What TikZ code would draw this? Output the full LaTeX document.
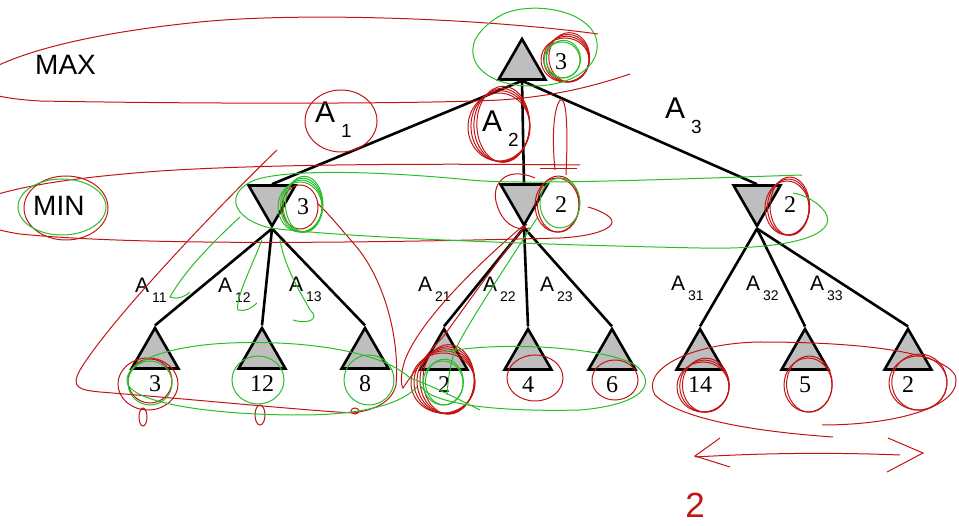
\documentclass[tikz,border=0pt]{standalone}
\usepackage{fontspec}
\setmainfont{Liberation Serif}
\setsansfont{Liberation Sans}
\usetikzlibrary{shapes.geometric, positioning}
\definecolor{my_gray}{RGB}{190, 190, 190}
\definecolor{my_red}{RGB}{195, 20, 20}
\definecolor{my_green}{RGB}{40, 190, 40}
\tikzset {
  maxnode/.style = {draw, line width=2.6pt, fill=my_gray, regular polygon, regular polygon sides=3, minimum size=54pt, inner sep=0pt},
  minnode/.style = {maxnode, shape border rotate=180},
  leafnode/.style = {maxnode},
  value/.style = {inner sep=0pt, font=\fontsize{24}{24}\selectfont},
  player/.style = {inner sep=0pt, anchor=base west, font=\sffamily\fontsize{28}{28}\selectfont},
  act/.style = {inner sep=0pt, anchor=base west, font=\sffamily\fontsize{30}{30}\selectfont},
  subact/.style = {inner sep=0pt, anchor=base west, font=\sffamily\fontsize{21}{21}\selectfont},
  branch/.style = {line width=2.6pt, black},
  redpen/.style = {my_red, line width=1pt},
  greenpen/.style = {my_green, line width=1pt},
  handnum/.style = {inner sep=0pt, text=my_red, font=\sffamily\fontsize{35}{35}\selectfont}
}
% move labels with lowered index
\newcommand{\actone}[1]{A\hspace{6pt}\raisebox{-15pt}{\fontsize{19}{19}\selectfont #1}}
\newcommand{\acttwo}[1]{A\hspace{3pt}\raisebox{-10pt}{\fontsize{14}{14}\selectfont #1}}
% a few loops of the pen round one spot
\newcommand{\penloops}[6]{%
  \foreach \k in {1,...,#6} {
    \draw[#1] (#2+\k*1.4-1.4, #3-\k*0.9+0.9) ellipse ({#4*(1.05-0.05*\k)} and {#5*(0.96+0.04*\k)});
  }
}

\begin{document}
\begin{tikzpicture}[x=1pt, y=-1pt]
    \useasboundingbox (0,0) rectangle (959,526);

    % players
    \node[player] (maxlbl) at (35,75) {MAX};
    \node[player] (minlbl) at (33,216) {MIN};

    % tree
    \node[maxnode] (root) at (522,66) {};
    \node[minnode] (min1) at (272,199) {};
    \node[minnode] (min2) at (524,198) {};
    \node[minnode] (min3) at (757,199) {};
    \node[leafnode] (l11) at (155,355) {};
    \node[leafnode] (l12) at (262,355) {};
    \node[leafnode] (l13) at (365,355) {};
    \node[leafnode] (l21) at (444,356) {};
    \node[leafnode] (l22) at (528,356) {};
    \node[leafnode] (l23) at (612,356) {};
    \node[leafnode] (l31) at (700,356) {};
    \node[leafnode] (l32) at (805,356) {};
    \node[leafnode] (l33) at (908,356) {};

    \draw[branch] (root.south) -- (min1.north);
    \draw[branch] (root.south) -- (min2.north);
    \draw[branch] (root.south) -- (min3.north);
    \foreach \m/\a/\b/\c in {min1/l11/l12/l13, min2/l21/l22/l23, min3/l31/l32/l33} {
      \draw[branch] (\m.corner 1) -- (\a.corner 1);
      \draw[branch] (\m.corner 1) -- (\b.corner 1);
      \draw[branch] (\m.corner 1) -- (\c.corner 1);
    }

    % values
    \node[value] (vroot) at (561,62) {3};
    \node[value] (vmin1) at (303,207) {3};
    \node[value] (vmin2) at (561,205) {2};
    \node[value] (vmin3) at (790,205) {2};
    \node[value, below=6pt of l11] (v11) {3};
    \node[value, below=6pt of l12] (v12) {12};
    \node[value, below=6pt of l13] (v13) {8};
    \node[value, below=6pt of l21] (v21) {2};
    \node[value, below=6pt of l22] (v22) {4};
    \node[value, below=6pt of l23] (v23) {6};
    \node[value, below=6pt of l31] (v31) {14};
    \node[value, below=6pt of l32] (v32) {5};
    \node[value, below=6pt of l33] (v33) {2};

    % moves
    \node[act] (a1) at (315,123) {\actone{1}};
    \node[act] (a2) at (482,132) {\actone{2}};
    \node[act] (a3) at (665,119) {\actone{3}};
    \node[subact] (a11) at (135,293) {\acttwo{11}};
    \node[subact] (a12) at (218,293) {\acttwo{12}};
    \node[subact] (a13) at (289,292) {\acttwo{13}};
    \node[subact] (a21) at (418,292) {\acttwo{21}};
    \node[subact] (a22) at (483,292) {\acttwo{22}};
    \node[subact] (a23) at (540,292) {\acttwo{23}};
    \node[subact] (a31) at (671,291) {\acttwo{31}};
    \node[subact] (a32) at (746,291) {\acttwo{32}};
    \node[subact] (a33) at (810,291) {\acttwo{33}};

    % red pen
    \draw[redpen] (598,34) .. controls (480,18) and (300,12) .. (200,22) .. controls (100,32) and (20,50) .. (-20,75) .. controls (-30,90) and (-10,98) .. (40,101) .. controls (200,104) and (420,104) .. (500,100) .. controls (560,96) and (600,84) .. (630,74);
    \draw[redpen] (580,165) .. controls (400,163) and (250,165) .. (160,171) .. controls (80,177) and (20,185) .. (-20,200) .. controls (-40,215) and (-20,228) .. (20,234) .. controls (150,247) and (400,242) .. (560,238) .. controls (600,236) and (625,225) .. (605,214) .. controls (600,211) and (595,209) .. (588,207);
    \draw[redpen] (277,150) .. controls (220,205) and (110,320) .. (80,370) .. controls (70,388) and (80,390) .. (100,392) .. controls (200,400) and (300,410) .. (353,413) .. controls (375,410) and (392,402) .. (396,385) .. controls (400,340) and (385,280) .. (355,245) .. controls (340,228) and (330,215) .. (317,203);
    \draw[redpen] (555,170) .. controls (552,140) and (553,110) .. (560,100) .. controls (567,96) and (568,130) .. (566,175);
    \draw[redpen] (540,169) -- (577,169);
    \draw[redpen] (535,178) .. controls (505,165) and (490,185) .. (497,205) .. controls (502,222) and (515,232) .. (530,228);
    \draw[redpen] (523,226) .. controls (480,262) and (420,320) .. (405,360) .. controls (400,375) and (401,385) .. (403,388) .. controls (415,370) and (430,350) .. (443,337) .. controls (470,300) and (505,250) .. (527,224);
    \draw[redpen] (833,437) .. controls (760,432) and (680,420) .. (655,395) .. controls (640,370) and (690,343) .. (760,342) .. controls (850,342) and (940,350) .. (955,375) .. controls (965,405) and (900,425) .. (822,425);
    \draw[redpen] (720,438) -- (695,456) -- (730,467);
    \draw[redpen] (695,457) .. controls (780,452) and (850,453) .. (900,455);
    \draw[redpen] (888,438) -- (923,453) -- (887,472);
    \penloops{redpen}{565}{60}{24}{22}{4}
    \penloops{redpen}{66}{208}{42}{32}{1}
    \penloops{redpen}{341}{121}{36}{31}{1}
    \penloops{redpen}{499}{127}{31}{34}{4}
    \penloops{redpen}{300}{207}{18}{22}{1}
    \penloops{redpen}{557}{205}{22}{27}{2}
    \penloops{redpen}{787}{208}{22}{27}{3}
    \penloops{redpen}{148}{384}{30}{26}{1}
    \penloops{redpen}{150}{381}{22}{22}{1}
    \penloops{redpen}{443}{383}{32}{30}{5}
    \penloops{redpen}{535}{378}{28}{23}{1}
    \penloops{redpen}{615}{380}{23}{20}{1}
    \penloops{redpen}{703}{387}{26}{25}{3}
    \penloops{redpen}{808}{385}{24}{27}{2}
    \penloops{redpen}{918}{383}{29}{27}{2}
    \draw[redpen] (143,417) ellipse (4 and 9);
    \draw[redpen] (260,415) ellipse (5 and 10);
    \draw[redpen] (355,411) ellipse (4 and 3);
    \node[handnum] (answer) at (695,505) {2};

    % green pen
    \draw[greenpen] (498,17) .. controls (520,2) and (580,5) .. (595,35) .. controls (605,60) and (580,85) .. (535,86) .. controls (490,87) and (465,65) .. (475,40) .. controls (480,30) and (490,22) .. (498,17);
    \draw[greenpen] (802,175) .. controls (650,180) and (520,185) .. (470,180) .. controls (390,172) and (290,168) .. (255,180) .. controls (225,192) and (230,218) .. (270,228) .. controls (350,238) and (550,245) .. (700,248) .. controls (790,250) and (840,235) .. (825,212) .. controls (818,202) and (805,195) .. (793,193);
    \draw[greenpen] (240,217) .. controls (215,240) and (185,270) .. (170,297) .. controls (178,300) and (186,296) .. (190,292);
    \draw[greenpen] (262,240) .. controls (250,270) and (235,300) .. (238,310) .. controls (245,312) and (252,308) .. (257,303);
    \draw[greenpen] (280,240) .. controls (285,270) and (305,300) .. (310,310) .. controls (320,318) and (310,325) .. (293,320);
    \draw[greenpen] (480,410) .. controls (450,395) and (430,385) .. (410,378) .. controls (380,350) and (300,340) .. (230,343) .. controls (160,346) and (120,365) .. (128,385) .. controls (140,405) and (220,415) .. (300,415) .. controls (360,415) and (400,405) .. (417,387);
    \draw[greenpen] (445,352) .. controls (490,342) and (600,345) .. (635,365) .. controls (660,385) and (640,405) .. (580,410) .. controls (500,412) and (430,405) .. (420,385);
    \draw[greenpen] (537,218) .. controls (510,260) and (470,320) .. (455,350) .. controls (450,365) and (448,380) .. (447,395);
    \penloops{greenpen}{562}{60}{18}{18}{2}
    \penloops{greenpen}{62}{207}{44}{28}{1}
    \penloops{greenpen}{300}{207}{22}{25}{4}
    \penloops{greenpen}{560}{203}{20}{25}{1}
    \penloops{greenpen}{150}{383}{22}{22}{1}
    \penloops{greenpen}{258}{380}{26}{24}{1}
    \penloops{greenpen}{369}{380}{25}{25}{1}
    \penloops{greenpen}{443}{383}{20}{22}{2}

\end{tikzpicture}
\end{document}
